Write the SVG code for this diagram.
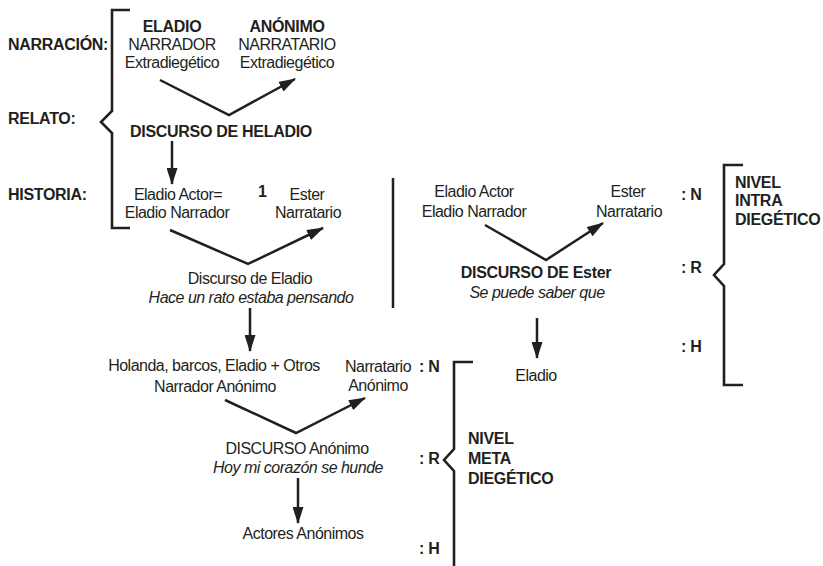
<svg xmlns="http://www.w3.org/2000/svg" width="823" height="566" viewBox="0 0 823 566">
<defs>
<style>
text{font-family:"Liberation Sans",Arial,Helvetica,sans-serif;font-size:16px;letter-spacing:-0.5px;fill:#231f20}
.b{font-weight:bold;letter-spacing:-0.3px}
.i{font-style:italic}
.c{text-anchor:middle}
.ln{fill:none;stroke:#231f20;stroke-width:2.5}
.br{fill:none;stroke:#231f20;stroke-width:2.6}
</style>
<marker id="ah" viewBox="0 0 17 11" refX="16" refY="5.5" markerWidth="17" markerHeight="11" markerUnits="userSpaceOnUse" orient="auto">
<path d="M0,0 L17,5.5 L0,11 z" fill="#231f20"/>
</marker>
</defs>
<rect width="823" height="566" fill="#fff"/>

<g id="labels-left">
<text class="b" x="8" y="50">NARRACIÓN:</text>
<text class="b" x="8" y="124">RELATO:</text>
<text class="b" x="8" y="200">HISTORIA:</text>
</g>

<g id="bracket-main">
<path class="br" d="M130,10 H112 V111 L101,122 L112,133 V228 H130"/>
</g>

<g id="narrador-extra">
<text class="b c" x="172" y="32">ELADIO</text>
<text class="c" x="172" y="50">NARRADOR</text>
<text class="c" x="172" y="68">Extradiegético</text>
</g>
<g id="narratario-extra">
<text class="b c" x="287" y="32">ANÓNIMO</text>
<text class="c" x="287" y="50">NARRATARIO</text>
<text class="c" x="287" y="68">Extradiegético</text>
</g>
<g id="discurso-heladio">
<text class="b c" x="221" y="137">DISCURSO DE HELADIO</text>
</g>
<g id="eladio-actor">
<text class="c" x="178" y="200">Eladio Actor=</text>
<text class="c" x="177" y="218">Eladio Narrador</text>
</g>
<g id="num1">
<text class="b" x="258" y="197">1</text>
</g>
<g id="ester-narratario">
<text class="c" x="307" y="200">Ester</text>
<text class="c" x="308" y="218">Narratario</text>
</g>
<g id="discurso-eladio">
<text class="c" x="250" y="284">Discurso de Eladio</text>
<text class="i c" x="251" y="303">Hace un rato estaba pensando</text>
</g>
<g id="holanda">
<text class="c" x="214" y="371">Holanda, barcos, Eladio + Otros</text>
<text class="c" x="215" y="392">Narrador Anónimo</text>
</g>
<g id="narratario-anonimo">
<text class="c" x="378" y="372">Narratario</text>
<text class="c" x="378" y="391">Anónimo</text>
</g>
<g id="discurso-anonimo">
<text class="c" x="297" y="454">DISCURSO Anónimo</text>
<text class="i c" x="298" y="473">Hoy mi corazón se hunde</text>
</g>
<g id="actores-anonimos">
<text class="c" x="303" y="539">Actores Anónimos</text>
</g>

<g id="nivel-meta">
<text class="b" x="419" y="372">: N</text>
<text class="b" x="419" y="464">: R</text>
<text class="b" x="419" y="554">: H</text>
<path class="br" d="M473,362 H454 V449 L444,460 L454,471 V570"/>
<text class="b" x="468" y="444">NIVEL</text>
<text class="b" x="468" y="464">META</text>
<text class="b" x="468" y="484">DIEGÉTICO</text>
</g>

<g id="eladio-actor-2">
<text class="c" x="474" y="197">Eladio Actor</text>
<text class="c" x="474" y="217">Eladio Narrador</text>
</g>
<g id="ester-narratario-2">
<text class="c" x="628" y="197">Ester</text>
<text class="c" x="629" y="217">Narratario</text>
</g>
<g id="discurso-ester">
<text class="b c" x="536" y="278">DISCURSO DE Ester</text>
<text class="i c" x="537" y="298">Se puede saber que</text>
</g>
<g id="eladio">
<text class="c" x="536" y="381">Eladio</text>
</g>

<g id="nivel-intra">
<text class="b" x="681" y="200">: N</text>
<text class="b" x="681" y="273">: R</text>
<text class="b" x="681" y="352">: H</text>
<path class="br" d="M743,165 H724 V264 L714,275 L724,286 V385 H743"/>
<text class="b" x="735" y="188">NIVEL</text>
<text class="b" x="735" y="206">INTRA</text>
<text class="b" x="735" y="225">DIEGÉTICO</text>
</g>

<g id="divider">
<line class="ln" x1="393" y1="178" x2="393" y2="308"/>
</g>

<g id="connectors">
<polyline class="ln" points="160,80 229,115 295,79" marker-end="url(#ah)"/>
<line class="ln" x1="172" y1="141" x2="172" y2="184" marker-end="url(#ah)"/>
<polyline class="ln" points="170,230 248,264 323,228" marker-end="url(#ah)"/>
<line class="ln" x1="250" y1="308" x2="250" y2="351" marker-end="url(#ah)"/>
<polyline class="ln" points="225,400 296,433 365,398" marker-end="url(#ah)"/>
<line class="ln" x1="298" y1="478" x2="298" y2="523" marker-end="url(#ah)"/>
<polyline class="ln" points="485,225 546,260 603,223" marker-end="url(#ah)"/>
<line class="ln" x1="537" y1="318" x2="537" y2="358" marker-end="url(#ah)"/>
</g>
</svg>
